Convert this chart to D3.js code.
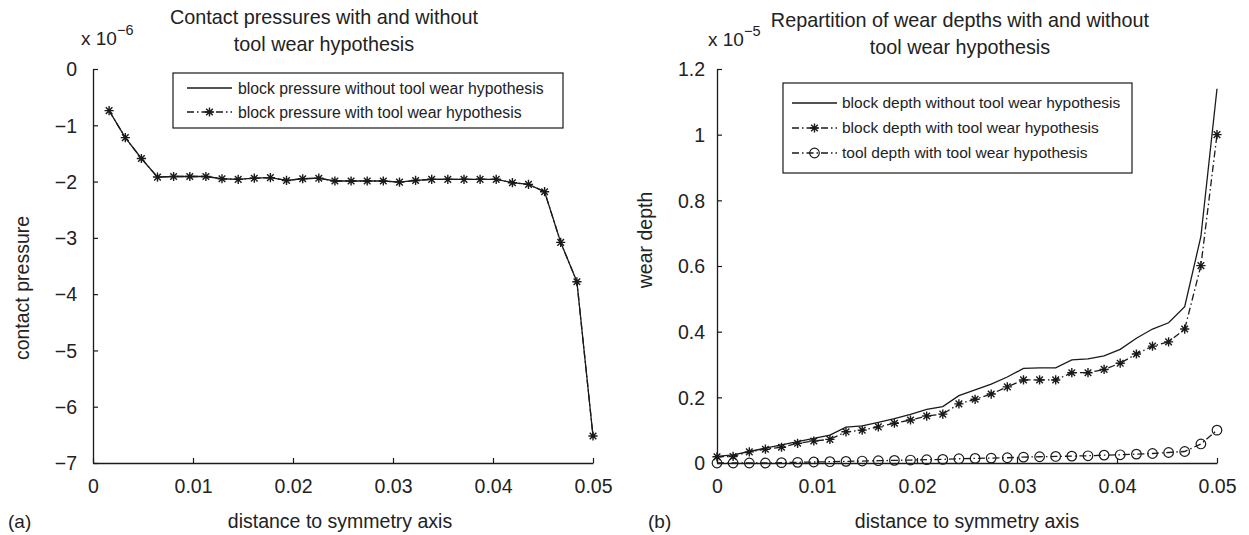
<!DOCTYPE html>
<html><head><meta charset="utf-8">
<script src="https://cdn.jsdelivr.net/npm/d3@7"></script>
<style>
html,body{margin:0;padding:0;background:#fff;}
svg{display:block;}
text{font-family:"Liberation Sans",Arial,Helvetica,sans-serif;fill:#222;}
</style></head>
<body><svg id="c" width="1249" height="535"></svg>
<script>
// ---- data ----
const xPressure = [0.00161,0.00323,0.00484,0.00645,0.00806,0.00968,0.01129,0.0129,0.01452,0.01613,0.01774,0.01935,0.02097,0.02258,0.02419,0.02581,0.02742,0.02903,0.03065,0.03226,0.03387,0.03548,0.0371,0.03871,0.04032,0.04194,0.04355,0.04516,0.04677,0.04839,0.05];
const pressureWithout = [-0.74,-1.22,-1.59,-1.92,-1.91,-1.91,-1.91,-1.95,-1.96,-1.94,-1.93,-1.98,-1.95,-1.94,-1.99,-1.99,-1.99,-1.99,-2.01,-1.98,-1.96,-1.96,-1.96,-1.96,-1.96,-2.02,-2.05,-2.18,-3.08,-3.78,-6.52];
const pressureWith    = [-0.74,-1.22,-1.59,-1.92,-1.91,-1.91,-1.91,-1.95,-1.96,-1.94,-1.93,-1.98,-1.95,-1.94,-1.99,-1.99,-1.99,-1.99,-2.01,-1.98,-1.96,-1.96,-1.96,-1.96,-1.96,-2.02,-2.05,-2.18,-3.08,-3.78,-6.52];

const xDepth = [0,0.00161,0.00323,0.00484,0.00645,0.00806,0.00968,0.01129,0.0129,0.01452,0.01613,0.01774,0.01935,0.02097,0.02258,0.02419,0.02581,0.02742,0.02903,0.03065,0.03226,0.03387,0.03548,0.0371,0.03871,0.04032,0.04194,0.04355,0.04516,0.04677,0.04839,0.05];
const blockDepthWithout = [0.02,0.025,0.035,0.045,0.055,0.065,0.075,0.085,0.109,0.113,0.124,0.135,0.148,0.163,0.172,0.205,0.223,0.24,0.262,0.288,0.29,0.29,0.314,0.317,0.326,0.346,0.38,0.408,0.427,0.476,0.69,1.14];
const blockDepthWith    = [0.019,0.02,0.034,0.042,0.048,0.06,0.067,0.072,0.095,0.10,0.11,0.121,0.131,0.143,0.149,0.18,0.194,0.21,0.232,0.253,0.253,0.253,0.275,0.275,0.285,0.304,0.332,0.356,0.369,0.408,0.601,1.0];
const toolDepthWith     = [0,0,0,0,0.001,0.002,0.003,0.004,0.005,0.006,0.007,0.008,0.009,0.01,0.011,0.013,0.014,0.015,0.016,0.018,0.019,0.02,0.021,0.022,0.024,0.025,0.027,0.029,0.032,0.035,0.058,0.1];

const xTicks = [0,0.01,0.02,0.03,0.04,0.05];
const yTicksPressure = [0,-1,-2,-3,-4,-5,-6,-7];
const yTicksDepth = [0,0.2,0.4,0.6,0.8,1,1.2];

const titleA = ["Contact pressures with and without","tool wear hypothesis"];
const titleB = ["Repartition of wear depths with and without","tool wear hypothesis"];
const legendA = ["block pressure without tool wear hypothesis","block pressure with tool wear hypothesis"];
const legendB = ["block depth without tool wear hypothesis","block depth with tool wear hypothesis","tool depth with tool wear hypothesis"];

// ---- drawing ----
const svg = d3.select("#c");
svg.append("rect").attr("width",1249).attr("height",535).attr("fill","#fff");

const DASHDOT = "7,3,1.5,3";
const INK = "#1a1a1a";

function asterisk(g, x, y, s){
  const p = d3.path();
  p.moveTo(x-s,y); p.lineTo(x+s,y);
  p.moveTo(x,y-s); p.lineTo(x,y+s);
  const d = s*0.72;
  p.moveTo(x-d,y-d); p.lineTo(x+d,y+d);
  p.moveTo(x-d,y+d); p.lineTo(x+d,y-d);
  g.append("path").attr("d",p.toString()).attr("stroke",INK).attr("stroke-width",1.4).attr("fill","none");
}
function circle(g, x, y, r){
  g.append("circle").attr("cx",x).attr("cy",y).attr("r",r).attr("fill","none").attr("stroke",INK).attr("stroke-width",1.2);
}

function drawAxes(x, y, yTicks, yFmt, yPad){
  const gx = svg.append("g").attr("transform",`translate(0,${y.range()[0]})`)
    .call(d3.axisBottom(x).tickValues(xTicks).tickFormat(d=>d===0?"0":String(d)).tickSizeInner(-5).tickSizeOuter(0).tickPadding(16));
  const gy = svg.append("g").attr("transform",`translate(${x.range()[0]},0)`)
    .call(d3.axisLeft(y).tickValues(yTicks).tickFormat(yFmt).tickSizeInner(-5).tickSizeOuter(0).tickPadding(yPad));
  [gx,gy].forEach(g=>{
    g.select(".domain").attr("stroke",INK).attr("stroke-width",1.3);
    g.selectAll(".tick line").attr("stroke",INK).attr("stroke-width",1.2);
    g.selectAll(".tick text").attr("font-size",19.5).attr("fill","#222")
      .attr("font-family","'Liberation Sans',Arial,sans-serif");
  });
  gx.selectAll(".tick text").attr("dy","0.71em");
  gy.selectAll(".tick text").attr("dy","0.35em");
}

function titleBlock(cx, y0, lines){
  lines.forEach((t,i)=>{
    svg.append("text").attr("x",cx).attr("y",y0+i*27).attr("text-anchor","middle").attr("font-size",19.8).text(t);
  });
}
function multiplier(x, y, exp){
  const t = svg.append("text").attr("x",x).attr("y",y).attr("font-size",19);
  t.append("tspan").text("x 10");
  t.append("tspan").attr("dy",-10).attr("font-size",14.5).text(exp);
}

// ---------- Panel (a) ----------
const xA = d3.scaleLinear().domain([0,0.05]).range([93,593]);
const yA = d3.scaleLinear().domain([-7,0]).range([463,69]);
drawAxes(xA, yA, yTicksPressure, d3.format("d"), 16);

const lineA = d3.line().x(d=>xA(d[0])).y(d=>yA(d[1]));
const dataA1 = xPressure.map((v,i)=>[v,pressureWithout[i]]);
const dataA2 = xPressure.map((v,i)=>[v,pressureWith[i]]);
svg.append("path").attr("d",lineA(dataA1)).attr("fill","none").attr("stroke",INK).attr("stroke-width",1.3);
svg.append("path").attr("d",lineA(dataA2)).attr("fill","none").attr("stroke",INK).attr("stroke-width",1.3).attr("stroke-dasharray",DASHDOT);
const mA = svg.append("g");
dataA2.forEach(d=>asterisk(mA, xA(d[0]), yA(d[1]), 4.6));

titleBlock(324, 24, titleA);
multiplier(81, 45, "\u22126");
svg.append("text").attr("transform","translate(29,288) rotate(-90)").attr("text-anchor","middle").attr("font-size",19.5).text("contact pressure");
svg.append("text").attr("x",340).attr("y",528).attr("text-anchor","middle").attr("font-size",19.5).text("distance to symmetry axis");
svg.append("text").attr("x",8).attr("y",528).attr("font-size",19).attr("font-family","'Liberation Serif','Times New Roman',serif").text("(a)");

// legend (a)
const lgA = svg.append("g");
lgA.append("rect").attr("x",173).attr("y",73).attr("width",390).attr("height",55).attr("fill","#fff").attr("stroke",INK).attr("stroke-width",1.2);
legendA.forEach((t,i)=>{
  const yy = 88 + i*24;
  const ln = lgA.append("line").attr("x1",187).attr("x2",232).attr("y1",yy).attr("y2",yy).attr("stroke",INK).attr("stroke-width",1.3);
  if(i===1){ ln.attr("stroke-dasharray",DASHDOT); asterisk(lgA,209.5,yy,4.6); }
  lgA.append("text").attr("x",238).attr("y",yy).attr("dy","0.35em").attr("font-size",15.8).text(t);
});

// ---------- Panel (b) ----------
const xB = d3.scaleLinear().domain([0,0.05]).range([717,1217]);
const yB = d3.scaleLinear().domain([0,1.2]).range([463,69]);
drawAxes(xB, yB, yTicksDepth, d=>d===0?"0":String(d), 12);

const lineB = d3.line().x(d=>xB(d[0])).y(d=>yB(d[1]));
const dB1 = xDepth.map((v,i)=>[v,blockDepthWithout[i]]);
const dB2 = xDepth.map((v,i)=>[v,blockDepthWith[i]]);
const dB3 = xDepth.map((v,i)=>[v,toolDepthWith[i]]);
svg.append("path").attr("d",lineB(dB1)).attr("fill","none").attr("stroke",INK).attr("stroke-width",1.3);
svg.append("path").attr("d",lineB(dB2)).attr("fill","none").attr("stroke",INK).attr("stroke-width",1.3).attr("stroke-dasharray",DASHDOT);
svg.append("path").attr("d",lineB(dB3)).attr("fill","none").attr("stroke",INK).attr("stroke-width",1.3).attr("stroke-dasharray",DASHDOT);
const mB = svg.append("g");
dB2.forEach(d=>asterisk(mB, xB(d[0]), yB(d[1]), 4.6));
dB3.forEach(d=>circle(mB, xB(d[0]), yB(d[1]), 4.8));

titleBlock(960, 27, titleB);
multiplier(708, 46, "\u22125");
svg.append("text").attr("transform","translate(652,240) rotate(-90)").attr("text-anchor","middle").attr("font-size",19.5).text("wear depth");
svg.append("text").attr("x",967).attr("y",528).attr("text-anchor","middle").attr("font-size",19.5).text("distance to symmetry axis");
svg.append("text").attr("x",648).attr("y",528).attr("font-size",19).attr("font-family","'Liberation Serif','Times New Roman',serif").text("(b)");

// legend (b)
const lgB = svg.append("g");
lgB.append("rect").attr("x",783).attr("y",83).attr("width",349).attr("height",90).attr("fill","#fff").attr("stroke",INK).attr("stroke-width",1.2);
legendB.forEach((t,i)=>{
  const yy = 103 + i*25;
  const ln = lgB.append("line").attr("x1",792).attr("x2",837).attr("y1",yy).attr("y2",yy).attr("stroke",INK).attr("stroke-width",1.3);
  if(i>0) ln.attr("stroke-dasharray",DASHDOT);
  if(i===1) asterisk(lgB,814.5,yy,4.6);
  if(i===2) circle(lgB,814.5,yy,4.8);
  lgB.append("text").attr("x",842).attr("y",yy).attr("dy","0.35em").attr("font-size",15.5).text(t);
});
</script>
</body></html>
